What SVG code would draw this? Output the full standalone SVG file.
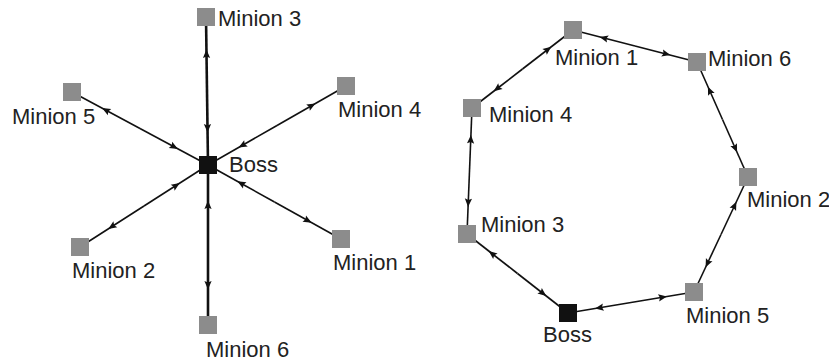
<svg xmlns="http://www.w3.org/2000/svg" width="829" height="363" viewBox="0 0 829 363">
  <defs>
    <style>
      .link { fill: none; stroke: #111; stroke-width: 1.6; marker-mid: url(#tip); }
      .thick { stroke-width: 2.6; }
      .minion { fill: #8c8c8c; }
      .boss { fill: #111; }
      .lbl { font-family: "Liberation Sans", Arial, sans-serif; font-size: 22px; fill: #222; }
    </style>
    <!-- small arrowhead placed mid-way along each half of a link, pointing to the nearer end -->
    <marker id="tip" markerUnits="userSpaceOnUse" markerWidth="12" markerHeight="12" viewBox="-6 -6 12 12" refX="0" refY="0" orient="auto" overflow="visible">
      <path d="M4.5,0 L-4,-3.6 L-2.5,0 L-4,3.6 Z" fill="#111"/>
    </marker>
  </defs>
  <rect width="829" height="363" fill="#fff"/>

  <!-- Star topology: each half runs from the link midpoint out to an endpoint -->
  <g id="star-connectors">
    <path class="link thick" d="M207,91 L207.5,128 L208,165"/>
    <path class="link thick" d="M207,91 L206.5,54 L206,17"/>
    <path class="link thick" d="M208,245 L208,205 L208,165"/>
    <path class="link thick" d="M208,245 L208,285 L208,325"/>
    <path class="link" d="M140,128.5 L174,146.75 L208,165"/>
    <path class="link" d="M140,128.5 L106,110.25 L72,92"/>
    <path class="link" d="M277,125.5 L242.5,145.25 L208,165"/>
    <path class="link" d="M277,125.5 L311.5,105.75 L346,86"/>
    <path class="link" d="M144,206 L176,185.5 L208,165"/>
    <path class="link" d="M144,206 L112,226.5 L80,247"/>
    <path class="link" d="M274.5,202 L241.25,183.5 L208,165"/>
    <path class="link" d="M274.5,202 L307.75,220.5 L341,239"/>
  </g>

  <!-- Ring topology -->
  <g id="ring-connectors">
    <path class="link" d="M517.5,273.5 L542.75,293.25 L568,313"/>
    <path class="link" d="M517.5,273.5 L492.25,253.75 L467,234"/>
    <path class="link" d="M469.5,171 L468.25,202.5 L467,234"/>
    <path class="link" d="M469.5,171 L470.75,139.5 L472,108"/>
    <path class="link" d="M522.5,69 L497.25,88.5 L472,108"/>
    <path class="link" d="M522.5,69 L547.75,49.5 L573,30"/>
    <path class="link" d="M635,46 L604,38 L573,30"/>
    <path class="link" d="M635,46 L666,54 L697,62"/>
    <path class="link" d="M722.5,119.5 L709.75,90.75 L697,62"/>
    <path class="link" d="M722.5,119.5 L735.25,148.25 L748,177"/>
    <path class="link" d="M721,234.5 L734.5,205.75 L748,177"/>
    <path class="link" d="M721,234.5 L707.5,263.25 L694,292"/>
    <path class="link" d="M631,302.5 L662.5,297.25 L694,292"/>
    <path class="link" d="M631,302.5 L599.5,307.75 L568,313"/>
  </g>

  <!-- Star nodes -->
  <g id="star-boss"><rect class="boss" x="199" y="156" width="18" height="18"/><text class="lbl" x="229" y="172">Boss</text></g>
  <g id="star-minion-3"><rect class="minion" x="197" y="8" width="18" height="18"/><text class="lbl" x="218" y="26">Minion 3</text></g>
  <g id="star-minion-5"><rect class="minion" x="63" y="83" width="18" height="18"/><text class="lbl" x="12" y="124">Minion 5</text></g>
  <g id="star-minion-4"><rect class="minion" x="337" y="77" width="18" height="18"/><text class="lbl" x="338" y="117">Minion 4</text></g>
  <g id="star-minion-2"><rect class="minion" x="71" y="238" width="18" height="18"/><text class="lbl" x="72" y="278">Minion 2</text></g>
  <g id="star-minion-1"><rect class="minion" x="332" y="230" width="18" height="18"/><text class="lbl" x="333" y="270">Minion 1</text></g>
  <g id="star-minion-6"><rect class="minion" x="199" y="316" width="18" height="18"/><text class="lbl" x="206" y="357">Minion 6</text></g>

  <!-- Ring nodes -->
  <g id="ring-boss"><rect class="boss" x="559" y="304" width="18" height="18"/><text class="lbl" x="543" y="342">Boss</text></g>
  <g id="ring-minion-1"><rect class="minion" x="564" y="21" width="18" height="18"/><text class="lbl" x="555" y="65">Minion 1</text></g>
  <g id="ring-minion-6"><rect class="minion" x="688" y="53" width="18" height="18"/><text class="lbl" x="708" y="66">Minion 6</text></g>
  <g id="ring-minion-4"><rect class="minion" x="463" y="99" width="18" height="18"/><text class="lbl" x="489" y="122">Minion 4</text></g>
  <g id="ring-minion-2"><rect class="minion" x="739" y="168" width="18" height="18"/><text class="lbl" x="747" y="207">Minion 2</text></g>
  <g id="ring-minion-3"><rect class="minion" x="458" y="225" width="18" height="18"/><text class="lbl" x="481" y="232">Minion 3</text></g>
  <g id="ring-minion-5"><rect class="minion" x="685" y="283" width="18" height="18"/><text class="lbl" x="686" y="323">Minion 5</text></g>
</svg>
